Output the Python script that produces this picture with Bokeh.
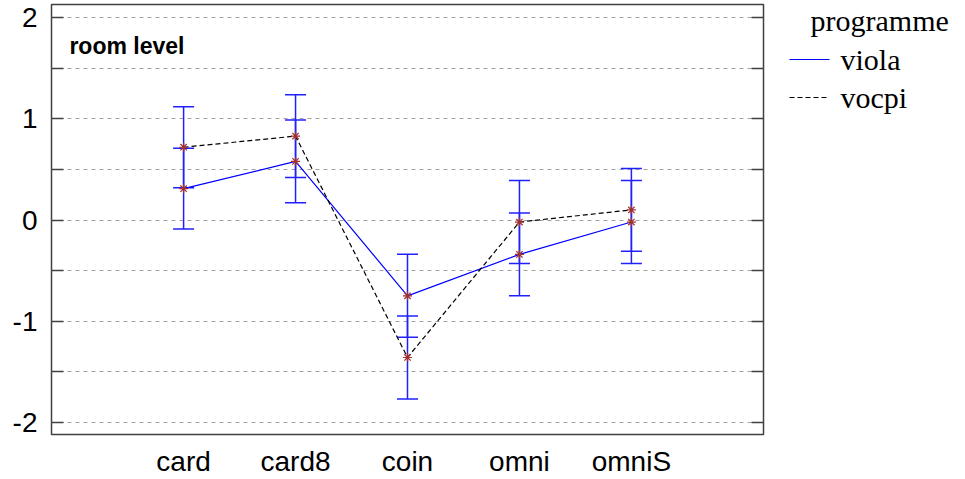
from bokeh.plotting import figure
from bokeh.layouts import row
from bokeh.models import (Range1d, FixedTicker, LinearAxis, Whisker,
                          ColumnDataSource, TeeHead, Label)
from bokeh.core.properties import value
from bokeh.embed import file_html
from bokeh.resources import INLINE

categories = ["card", "card8", "coin", "omni", "omniS"]
viola = [0.31, 0.58, -0.75, -0.34, -0.02]
viola_err = [0.40, 0.41, 0.41, 0.41, 0.41]
vocpi = [0.72, 0.83, -1.36, -0.02, 0.10]
vocpi_err = [0.40, 0.41, 0.41, 0.41, 0.41]
y_ticks = [-2, -1, 0, 1, 2]
y_minor = [-1.5, -0.5, 0.5, 1.5]
series_names = ["viola", "vocpi"]
legend_title = "programme"
panel_title = "room level"

xs = list(range(1, len(categories) + 1))

p = figure(width=780, height=479, output_backend="svg", toolbar_location=None,
           x_range=Range1d(-0.18, 6.18), y_range=Range1d(-2.122, 2.132),
           min_border_left=51, min_border_right=17, min_border_top=4,
           min_border_bottom=45)
p.background_fill_color = "white"
p.border_fill_color = "white"
p.outline_line_color = "#404040"
p.outline_line_width = 1.5

# grid
p.xgrid.grid_line_color = None
p.ygrid.grid_line_color = "#a0a0a0"
p.ygrid.grid_line_dash = "4 4"
p.ygrid.minor_grid_line_color = "#a0a0a0"
p.ygrid.minor_grid_line_dash = "4 4"

tick_font = "Liberation Sans"
# x axis
p.xaxis.ticker = FixedTicker(ticks=xs)
p.xaxis.major_label_overrides = {x: c for x, c in zip(xs, categories)}
p.xaxis.axis_line_color = None
p.xaxis.major_tick_line_color = None
p.xaxis.minor_tick_line_color = None
p.xaxis.major_label_text_font = tick_font
p.xaxis.major_label_text_font_size = "28px"
p.xaxis.major_label_text_color = "black"
p.xaxis.major_label_standoff = 5

# y axis
p.yaxis.ticker = FixedTicker(ticks=y_ticks, minor_ticks=y_minor)
p.yaxis.major_label_overrides = {t: str(t) for t in y_ticks}
p.yaxis.axis_line_color = None
p.yaxis.major_tick_in = 12
p.yaxis.major_tick_out = 0
p.yaxis.minor_tick_in = 12
p.yaxis.minor_tick_out = 0
p.yaxis.major_tick_line_color = "#404040"
p.yaxis.minor_tick_line_color = "#404040"
p.yaxis.major_tick_line_width = 1.5
p.yaxis.minor_tick_line_width = 1.5
p.yaxis.major_label_text_font = tick_font
p.yaxis.major_label_text_font_size = "28px"
p.yaxis.major_label_text_color = "black"
p.yaxis.major_label_standoff = 14

ry = LinearAxis(ticker=FixedTicker(ticks=y_ticks, minor_ticks=y_minor),
                major_label_overrides={t: "" for t in y_ticks},
                axis_line_color=None, major_tick_in=12, major_tick_out=0,
                minor_tick_in=12, minor_tick_out=0,
                major_tick_line_color="#404040", minor_tick_line_color="#404040",
                major_tick_line_width=1.5, minor_tick_line_width=1.5,
                major_label_standoff=0, major_label_text_font_size="1px")
p.add_layout(ry, "right")

# error bars
for vals, errs in ((viola, viola_err), (vocpi, vocpi_err)):
    src = ColumnDataSource(dict(x=xs,
                                upper=[v + e for v, e in zip(vals, errs)],
                                lower=[v - e for v, e in zip(vals, errs)]))
    w = Whisker(base="x", upper="upper", lower="lower", source=src,
                line_color="#2020ff", line_width=1.5,
                upper_head=TeeHead(size=21, line_color="#2020ff", line_width=1.5),
                lower_head=TeeHead(size=21, line_color="#2020ff", line_width=1.5))
    p.add_layout(w)

viola_style = dict(line_color="#0000ff", line_width=1.2)
vocpi_style = dict(line_color="black", line_width=1.2, line_dash="5 3")
p.line(xs, viola, **viola_style)
p.line(xs, vocpi, **vocpi_style)
p.scatter(xs, viola, marker="asterisk", size=9, line_color="#a03030", line_width=1.2)
p.scatter(xs, vocpi, marker="asterisk", size=9, line_color="#a03030", line_width=1.2)

p.add_layout(Label(x=-0.02, y=1.726, text=panel_title, text_font=tick_font,
                   text_font_style="bold", text_font_size="23px",
                   text_color="black", text_baseline="alphabetic"))

# legend panel: a separate pixel-scaled figure to the right of the plot frame
q = figure(frame_width=185, frame_height=479, output_backend="svg",
           toolbar_location=None, title=None, x_axis_type=None,
           y_axis_type=None, x_range=Range1d(0, 185), y_range=Range1d(479, 0),
           min_border=0)
q.outline_line_color = None
q.background_fill_color = "white"
q.border_fill_color = "white"

legend_font = value("Liberation Serif")
q.text(x=[30], y=[16], text=[legend_title], text_font=legend_font,
       text_font_size="30px", text_color="black", text_baseline="middle")
for name, style, yc in zip(series_names, (viola_style, vocpi_style), (55, 93)):
    q.segment(x0=[9], y0=[yc], x1=[49], y1=[yc], **style)
    q.text(x=[60], y=[yc], text=[name], text_font=legend_font,
           text_font_size="30px", text_color="black", text_baseline="middle")

open("out.html", "w").write(file_html(row(p, q), INLINE))
